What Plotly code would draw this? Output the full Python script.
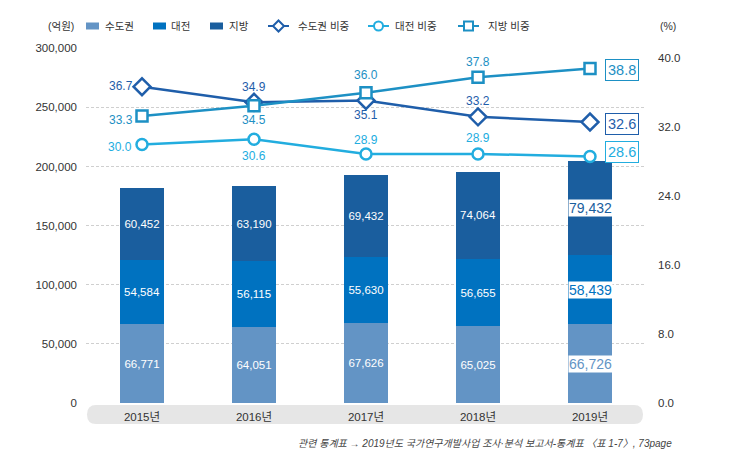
import plotly.graph_objects as go

years = ["2015년", "2016년", "2017년", "2018년", "2019년"]
capital = [66771, 64051, 67626, 65025, 66726]
daejeon = [54584, 56115, 55630, 56655, 58439]
regional = [60452, 63190, 69432, 74064, 79432]

capital_share = [36.7, 34.9, 35.1, 33.2, 32.6]
daejeon_share = [30.0, 30.6, 28.9, 28.9, 28.6]
regional_share = [33.3, 34.5, 36.0, 37.8, 38.8]

left_ticks = [0, 50000, 100000, 150000, 200000, 250000, 300000]
right_ticks = [0, 8, 16, 24, 32, 40]

C_CAP = "#6394c5"
C_DJ = "#0072c0"
C_REG = "#1a5e9e"
L_CAP = "#1f5eaa"
L_DJ = "#22addf"
L_REG = "#1d90c4"

NUM = "Liberation Sans, Arial, Noto Sans CJK KR, sans-serif"
KR = "Liberation Sans, Noto Sans CJK KR, sans-serif"

W, H = 730, 455
ML, MR, MT, MB = 86, 84, 48, 52
PW, PH = W - ML - MR, H - MT - MB


def pxx(px):
    return (px - ML) / PW


def pxy(py):
    return (H - MB - py) / PH


fig = go.Figure()

for name, vals, col in [("수도권", capital, C_CAP), ("대전", daejeon, C_DJ), ("지방", regional, C_REG)]:
    fig.add_trace(go.Bar(
        x=years, y=vals, name=name, marker=dict(color=col, line=dict(width=0)),
        width=0.4, text=[f"{v:,}" if i < len(vals) - 1 else "" for i, v in enumerate(vals)],
        textposition="inside", insidetextanchor="middle", textangle=0, constraintext="none",
        textfont=dict(family=NUM, size=11.5, color="white"),
        hoverinfo="skip", showlegend=False,
    ))

for name, vals, col, symbol, size in [
    ("수도권 비중", capital_share, L_CAP, "diamond", 13),
    ("대전 비중", daejeon_share, L_DJ, "circle", 11),
    ("지방 비중", regional_share, L_REG, "square", 11),
]:
    fig.add_trace(go.Scatter(
        x=years, y=vals, name=name, yaxis="y2", mode="lines+markers",
        line=dict(color=col, width=2.5),
        marker=dict(symbol=symbol, size=size, color="white", line=dict(color=col, width=2.5)),
        hoverinfo="skip", showlegend=False,
    ))

annotations = []

# point labels for the share lines: (xshift, yshift) per point
label_offsets = [
    (capital_share, L_CAP, [(-21, 1), (0, 15), (0, -15), (0, 16)]),
    (daejeon_share, L_DJ, [(-22, -3), (0, -17), (0, 14), (0, 16)]),
    (regional_share, L_REG, [(-21, -4), (0, -14), (0, 18), (0, 15)]),
]
for vals, col, offs in label_offsets:
    for i, (dx, dy) in enumerate(offs):
        annotations.append(dict(
            x=years[i], y=vals[i], xref="x", yref="y2", xshift=dx, yshift=dy,
            text=f"{vals[i]:.1f}", showarrow=False, xanchor="center", yanchor="middle",
            font=dict(family=NUM, size=12, color=col),
        ))

# boxed labels for last year of lines
for vals, col, ysh in [(regional_share, L_REG, -1), (capital_share, L_CAP, -2), (daejeon_share, L_DJ, 5)]:
    annotations.append(dict(
        x=years[-1], y=vals[-1], xref="x", yref="y2", xshift=32, yshift=ysh,
        text=f"{vals[-1]:.1f}", showarrow=False,
        font=dict(family=NUM, size=14.5, color=col),
        bgcolor="white", bordercolor=col, borderwidth=1, borderpad=2,
    ))

# boxed labels for last year of bars
base = 0
for vals, col in [(capital, C_CAP), (daejeon, C_DJ), (regional, C_REG)]:
    v = vals[-1]
    annotations.append(dict(
        x=years[-1], y=base + v / 2, xref="x", yref="y",
        text=f"{v:,}", showarrow=False,
        font=dict(family=NUM, size=14, color=col),
        bgcolor="white", borderpad=0,
    ))
    base += v

LEG_Y = 26
annotations.append(dict(x=pxx(76), y=pxy(LEG_Y), xref="paper", yref="paper",
                        xanchor="right", yanchor="middle", text="(억원)", showarrow=False,
                        font=dict(family=KR, size=10.5, color="#333")))
annotations.append(dict(x=pxx(658), y=pxy(LEG_Y), xref="paper", yref="paper",
                        xanchor="left", yanchor="middle", text="(%)", showarrow=False,
                        font=dict(family=KR, size=10.5, color="#333")))
annotations.append(dict(x=pxx(674), y=pxy(443), xref="paper", yref="paper",
                        xanchor="right", yanchor="middle",
                        text="<i>관련 통계표 → 2019년도 국가연구개발사업 조사·분석 보고서-통계표 〈표 1-7〉, 73page</i>",
                        showarrow=False, font=dict(family=KR, size=10, color="#444")))

shapes = []

# custom legend
legend_items = [
    ("bar", "수도권", C_CAP, 86, 103),
    ("bar", "대전", C_DJ, 153, 169),
    ("bar", "지방", C_REG, 210, 227),
    ("diamond", "수도권 비중", L_CAP, 268, 296),
    ("circle", "대전 비중", L_DJ, 368, 393),
    ("square", "지방 비중", L_REG, 458, 486),
]
for kind, label, col, sx, tx in legend_items:
    if kind == "bar":
        shapes.append(dict(type="rect", xref="paper", yref="paper",
                           x0=pxx(sx), x1=pxx(sx + 13), y0=pxy(LEG_Y - 3.5), y1=pxy(LEG_Y + 3.5),
                           fillcolor=col, line=dict(width=0)))
    else:
        cx = sx + 10.5
        shapes.append(dict(type="line", xref="paper", yref="paper",
                           x0=pxx(sx), x1=pxx(sx + 21), y0=pxy(LEG_Y), y1=pxy(LEG_Y),
                           line=dict(color=col, width=2)))
        if kind == "circle":
            r = 4.5
            shapes.append(dict(type="circle", xref="paper", yref="paper",
                               x0=pxx(cx - r), x1=pxx(cx + r), y0=pxy(LEG_Y + r), y1=pxy(LEG_Y - r),
                               fillcolor="white", line=dict(color=col, width=2)))
        elif kind == "square":
            r = 4.5
            shapes.append(dict(type="rect", xref="paper", yref="paper",
                               x0=pxx(cx - r), x1=pxx(cx + r), y0=pxy(LEG_Y + r), y1=pxy(LEG_Y - r),
                               fillcolor="white", line=dict(color=col, width=2)))
        else:
            r = 5.5
            p = (f"M{pxx(cx)},{pxy(LEG_Y - r)} L{pxx(cx + r)},{pxy(LEG_Y)} "
                 f"L{pxx(cx)},{pxy(LEG_Y + r)} L{pxx(cx - r)},{pxy(LEG_Y)} Z")
            shapes.append(dict(type="path", xref="paper", yref="paper", path=p,
                               fillcolor="white", line=dict(color=col, width=2)))
    annotations.append(dict(x=pxx(tx), y=pxy(LEG_Y), xref="paper", yref="paper",
                            xanchor="left", yanchor="middle", text=label, showarrow=False,
                            font=dict(family=KR, size=10.5, color="#333")))

# rounded grey band behind category labels
x0, x1 = pxx(87), pxx(643)
y0, y1 = pxy(405), pxy(424)
rx, ry = 9 / PW, 9.5 / PH
path = (f"M{x0+rx},{y0} L{x1-rx},{y0} Q{x1},{y0} {x1},{y0-ry} "
        f"Q{x1},{y1} {x1-rx},{y1} L{x0+rx},{y1} Q{x0},{y1} {x0},{y1+ry} "
        f"Q{x0},{y0} {x0+rx},{y0} Z")
shapes.append(dict(type="path", xref="paper", yref="paper", path=path,
                   fillcolor="#e6e6e6", line=dict(width=0), layer="below"))

fig.update_layout(
    width=W, height=H, barmode="stack",
    margin=dict(l=ML, r=MR, t=MT, b=MB),
    paper_bgcolor="white", plot_bgcolor="white",
    font=dict(family=KR, size=12, color="#333"),
    showlegend=False,
    xaxis=dict(type="category", range=[-0.5, 4.5], showline=False, ticks="",
               showgrid=False, tickfont=dict(family=KR, size=11.5, color="#333"),
               ticklabelstandoff=5),
    yaxis=dict(range=[0, 300300], tickvals=left_ticks, tickformat=",", showline=False,
               ticks="", showgrid=True, gridcolor="#cfcfcf", griddash="3px,2px", gridwidth=1,
               zeroline=False, tickfont=dict(family=NUM, size=11.5, color="#333"),
               ticklabelstandoff=8),
    yaxis2=dict(range=[0, 41.19], tickvals=right_ticks, tickformat=".1f", overlaying="y",
                side="right", showgrid=False, zeroline=False, showline=False, ticks="",
                tickfont=dict(family=NUM, size=11.5, color="#333"), ticklabelstandoff=11),
    annotations=annotations, shapes=shapes,
)

fig.write_html("out.html")
